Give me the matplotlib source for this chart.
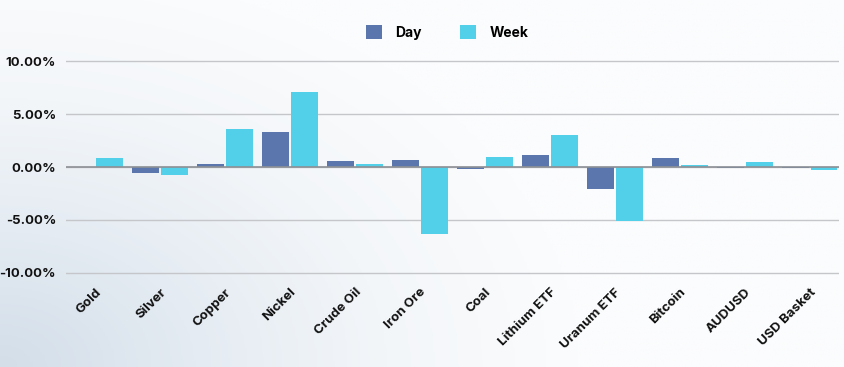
import numpy as np
import matplotlib.pyplot as plt
from matplotlib.ticker import FuncFormatter
from matplotlib.colors import LinearSegmentedColormap

# data (percent change)
assets = ['Gold', 'Silver', 'Copper', 'Nickel', 'Crude Oil', 'Iron Ore', 'Coal',
          'Lithium ETF', 'Uranum ETF', 'Bitcoin', 'AUDUSD', 'USD Basket']
day = [0.0, -0.6, 0.3, 3.3, 0.55, 0.65, -0.2, 1.1, -2.05, 0.85, -0.05, -0.05]
week = [0.85, -0.8, 3.55, 7.1, 0.3, -6.3, 0.95, 3.05, -5.05, 0.2, 0.5, -0.3]

day_color = '#5a76ad'
week_color = '#52d0ea'

plt.rcParams['font.family'] = ['Inter', 'DejaVu Sans']
plt.rcParams['font.weight'] = 'bold'

fig = plt.figure(figsize=(8.44, 3.67), dpi=100)
fig.patch.set_facecolor('#f5f8fb')

# soft background: bluish toward bottom-left, near white in the middle/right
cm = LinearSegmentedColormap.from_list('bg', ['#d3dee9', '#e4ebf2', '#f3f6f9', '#fbfcfd'])
gx, gy = np.meshgrid(np.linspace(0, 1, 300), np.linspace(0, 1, 300))
bg = np.clip(np.hypot(gx * 1.6, (1 - gy) * 1.0) / 1.1, 0, 1)
bg_ax = fig.add_axes([0, 0, 1, 1])
bg_ax.imshow(bg, cmap=cm, vmin=0, vmax=1, aspect='auto', extent=[0, 1, 0, 1])
bg_ax.axis('off')

ax = fig.add_axes([0.078, 0.2504, 0.916, 0.5891])
ax.set_facecolor('none')

x = np.arange(len(assets))
w = 0.415
ax.bar(x - 0.22, day, w, color=day_color, label='Day', zorder=3)
ax.bar(x + 0.22, week, w, color=week_color, label='Week', zorder=3)

ax.set_xlim(-0.45, len(assets) - 0.55)
ax.set_ylim(-10.2, 10.2)
ax.set_yticks([-10, -5, 0, 5, 10])
ax.yaxis.set_major_formatter(FuncFormatter(lambda v, p: '%.2f%%' % v))
ax.grid(axis='y', color='#c4c6c9', linewidth=1, zorder=0)
ax.axhline(0, color='#8d9095', linewidth=1.2, zorder=4)
for s in ax.spines.values():
    s.set_visible(False)
ax.tick_params(axis='both', length=0, labelsize=9.5, colors='#111111')
ax.tick_params(axis='y', pad=7)
ax.tick_params(axis='x', pad=8)
ax.set_xticks(x)
ax.set_xticklabels(assets, rotation=45, ha='right', rotation_mode='anchor', fontsize=9.5)

fig.legend(loc='upper center', bbox_to_anchor=(0.53, 0.965), ncol=2, frameon=False,
           fontsize=10, handlelength=1.1, handleheight=1.1, columnspacing=2.75,
           handletextpad=1.0)

plt.savefig('out.png', dpi=100, facecolor=fig.get_facecolor())
